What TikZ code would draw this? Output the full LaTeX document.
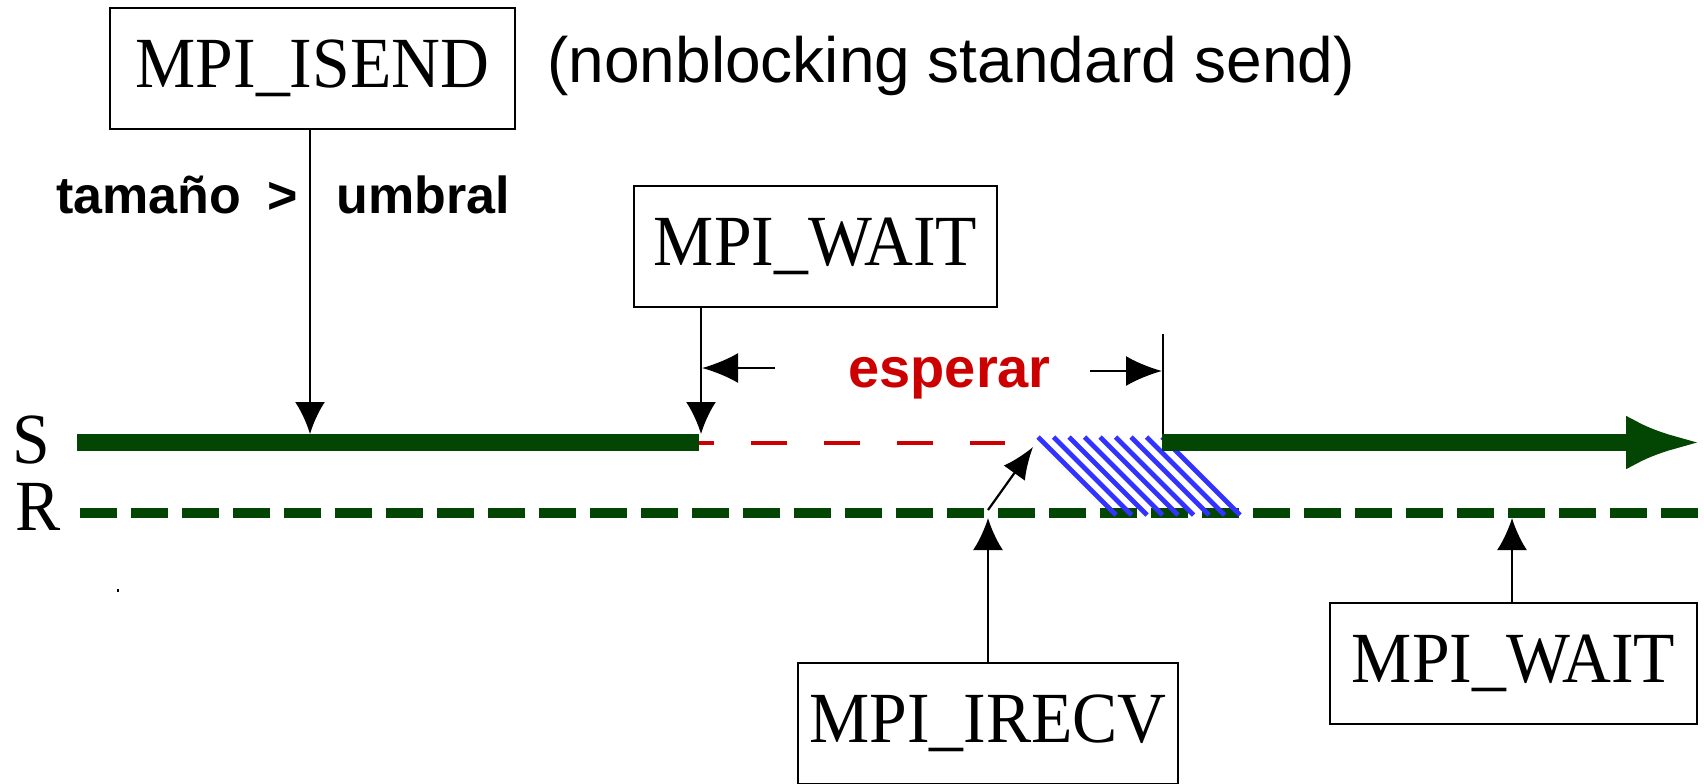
\documentclass[tikz,border=0pt]{standalone}
\usepackage{fontspec}
\usetikzlibrary{arrows.meta}
\newfontfamily\boxfont[FakeStretch=0.94]{Liberation Serif}
\newfontfamily\labelfont{Liberation Sans}
\definecolor{lanegreen}{RGB}{3,69,3}
\definecolor{waitred}{RGB}{204,0,0}
\definecolor{hatchblue}{RGB}{51,51,255}

\begin{document}
\begin{tikzpicture}[x=0.5pt,y=-0.5pt,
  callbox/.style={draw=black, line width=1.25pt, inner sep=0pt,
    minimum height=60.5pt, font={\boxfont\fontsize{36pt}{40pt}\selectfont}},
  lanelabel/.style={anchor=base, inner sep=0pt,
    font={\boxfont\fontsize{36pt}{40pt}\selectfont}},
  conn/.style={line width=1.25pt, -{Latex[length=16pt,width=15pt]}},
  dimarrow/.style={line width=1.25pt, -{Latex[length=18pt,width=15pt]}},
  boldlabel/.style={inner sep=0pt, font={\labelfont\bfseries\fontsize{26pt}{30pt}\selectfont}},
  hatchline/.style={hatchblue, line width=2.3pt}]

\useasboundingbox (0,0) rectangle (1704,783);
\clip (0,0) rectangle (1704,783);

% process lanes
\coordinate (sStart) at (77,442.5);
\coordinate (sStop) at (699,442.5);
\coordinate (redEnd) at (1005,442.5);
\coordinate (sResume) at (1162,442.5);
\coordinate (sEnd) at (1702,442.5);
\coordinate (rStart) at (80,513);
\coordinate (rEnd) at (1704,513);

\node[lanelabel] (S) at (31,463) {S};
\node[lanelabel] (R) at (38,530) {R};

% receiver lane (dashed)
\draw[lanegreen, line width=5pt, dash pattern=on 18.5pt off 7pt] (rStart) -- (rEnd);

% transfer region
\foreach \k in {0,...,8}
  \draw[hatchline] ({1038+15.5*\k},437) -- ++(78,78);

% sender lane
\draw[lanegreen, line width=8.5pt] (sStart) -- (sStop);
\draw[waitred, line width=2pt, dash pattern=on 18pt off 18.5pt, dash phase=10.5pt] (sStop) -- (redEnd);
\draw[lanegreen, line width=8.5pt, -{Latex[length=38pt,width=27pt]}] (sResume) -- (sEnd);

% calls
\node[callbox, minimum width=202.5pt] (isend) at (312.5,68.5) {MPI\_ISEND};
\node[callbox, minimum width=181.5pt] (waitS) at (815.5,246.5) {MPI\_WAIT};
\node[callbox, minimum width=190pt] (irecv) at (988,723.5) {MPI\_IRECV};
\node[callbox, minimum width=183.5pt] (waitR) at (1513.5,663.5) {MPI\_WAIT};

\node[anchor=base west, inner sep=0pt, font={\labelfont\fontsize{32pt}{36pt}\selectfont}]
  (caption) at (547,82) {(nonblocking standard send)};

\node[boldlabel, anchor=base east] (size) at (298,213) {tamaño\hspace{0.5em}>};
\node[boldlabel, anchor=base west] (thresh) at (336,213) {umbral};

% call arrows onto the lanes
\coordinate (isendHit) at (310,434);
\coordinate (waitHit) at (701,434);
\coordinate (irecvHit) at (988,518);
\coordinate (waitRHit) at (1512,518);
\draw[conn] (isend.south -| isendHit) -- (isendHit);
\draw[conn] (waitS.south -| waitHit) -- (waitHit);
\draw[conn] (irecv.north) -- (irecvHit);
\draw[conn] (waitR.north -| waitRHit) -- (waitRHit);

% posted receive meets the message
\coordinate (postFrom) at (988,510);
\coordinate (postTo) at (1033,447);
\draw[line width=1.1pt, -{Latex[length=16pt,width=13pt]}] (postFrom) -- (postTo);

% waiting interval
\coordinate (tickTop) at (1163,334);
\coordinate (tickBot) at (1163,434);
\draw[line width=1.25pt] (tickTop) -- (tickBot);
\coordinate (leftTail) at (775,368);
\coordinate (leftTip) at (702,368);
\coordinate (rightTail) at (1090,371);
\coordinate (rightTip) at (1162,371);
\draw[dimarrow] (leftTail) -- (leftTip);
\draw[dimarrow] (rightTail) -- (rightTip);
\node[anchor=base west, inner sep=0pt, text=waitred,
  font={\labelfont\bfseries\fontsize{28pt}{32pt}\selectfont}] (waitlabel) at (848,387) {esperar};

% stray mark
\fill (117,589) rectangle (119,592);
\end{tikzpicture}
\end{document}
